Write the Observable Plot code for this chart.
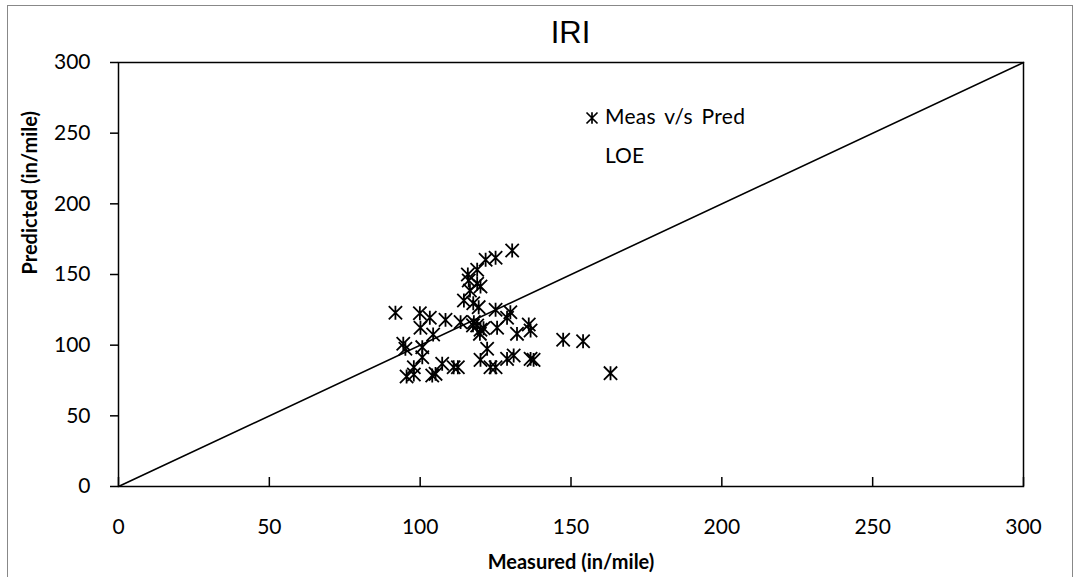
<!DOCTYPE html>
<html><head><meta charset="utf-8">
<script src="https://cdn.jsdelivr.net/npm/d3@7"></script>
<script src="https://cdn.jsdelivr.net/npm/@observablehq/plot@0.6"></script>
<style>
body{margin:0;background:#fff;}
#wrap{position:relative;width:1079px;height:577px;font-family:Lato,"Open Sans",sans-serif;}
#border{position:absolute;left:7px;top:5px;width:1066px;height:580px;border:1.5px solid #888;box-sizing:border-box;}
#title{position:absolute;left:0;width:1141px;top:15px;text-align:center;font-family:"Liberation Sans",Arial,sans-serif;font-size:31px;color:#000;}
.leg{position:absolute;font-size:21px;color:#000;}
</style></head>
<body><div id="wrap"><div id="border"></div><div id="title">IRI</div><div id="chart"></div>
<div class="leg" style="left:605px;top:103px;word-spacing:3px;letter-spacing:0.3px">Meas v/s Pred</div>
<div class="leg" style="left:605px;top:142px">LOE</div>
<svg id="legsym" style="position:absolute;left:582px;top:108px" width="20" height="20"></svg>
</div>
<script>
const measured = [91.8,99.9,103.2,100.1,108.4,113.4,104.3,94.4,95.1,100.7,100.7,97.9,95.5,97.9,104.0,107.3,111.1,112.5,105.1,
130.5,125.0,121.7,118.9,115.8,116.1,118.9,120.0,116.5,114.5,117.6,119.4,125.0,129.9,128.8,117.8,118.9,120.0,119.8,125.5,
132.1,136.0,136.6,122.2,120.0,123.3,125.0,128.8,131.0,136.6,137.6,117.5,121.0,147.4,154.0,163.1];
const predicted = [123.0,122.6,119.4,112.3,117.9,116.3,107.5,101.0,97.4,98.6,91.5,84.4,77.8,79.2,78.5,86.8,84.4,84.4,79.7,
167.0,161.8,160.4,153.3,150.0,145.8,143.4,141.5,138.7,131.6,129.7,126.9,125.0,123.3,119.4,116.3,113.9,110.9,108.0,112.3,
108.0,114.6,110.4,97.4,89.6,84.4,84.4,90.3,92.7,90.3,89.6,114.0,112.0,103.8,102.8,80.2];
const loeX = [0, 300];
const loeY = [0, 300];
const xTicks = [0,50,100,150,200,250,300];
const yTicks = [0,50,100,150,200,250,300];

const pts = measured.map((m,i)=>({m, p: predicted[i]}));
const loe = loeX.map((x,i)=>({x, y: loeY[i]}));

const star = {draw(ctx, size){ const r = Math.sqrt(size)/2; ctx.moveTo(-r,-r); ctx.lineTo(r,r); ctx.moveTo(-r,r); ctx.lineTo(r,-r); ctx.moveTo(0,-r*1.05); ctx.lineTo(0,r*1.05);} };

const chart = Plot.plot({
  width:1079, height:577,
  marginLeft:118, marginRight:56, marginTop:62, marginBottom:91,
  style:{fontFamily:"Lato, 'Open Sans', sans-serif", fontSize:"21px", background:"transparent", color:"#000"},
  x:{domain:[0,300]},
  y:{domain:[0,300]},
  marks:[
    Plot.frame({stroke:"#000", strokeWidth:1.5}),
    Plot.axisY({ticks:yTicks, tickSize:8, tickPadding:20, label:null, fontSize:21, strokeWidth:1.5}),
    Plot.axisX({ticks:xTicks, tickSize:-9, tickPadding:42, label:null, fontSize:21, strokeWidth:1.5}),
    Plot.line(loe, {x:"x", y:"y", stroke:"#000", strokeWidth:1.6}),
    Plot.dot(pts, {x:"m", y:"p", symbol: star, r:7.5, stroke:"#000", strokeWidth:1.8, fill:"none"}),
    Plot.text(["Measured (in/mile)"], {frameAnchor:"bottom", dy:82, text:d=>d, fontWeight:"bold", fontSize:20}),
    Plot.text(["Predicted (in/mile)"], {frameAnchor:"left", dx:-88, rotate:-90, text:d=>d, fontWeight:"bold", fontSize:20})
  ]
});
document.getElementById("chart").appendChild(chart);
const ls = d3.select("#legsym");
ls.append("path").attr("transform","translate(10,10)").attr("d", (()=>{const p=d3.path(); star.draw(p, 11*11); return p.toString();})()).attr("stroke","#000").attr("stroke-width",1.7).attr("fill","none");
</script></body></html>
